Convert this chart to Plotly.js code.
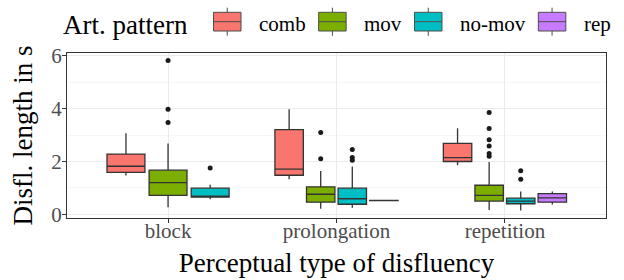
<!DOCTYPE html>
<html>
<head>
<meta charset="utf-8">
<script src="https://cdn.plot.ly/plotly-3.0.1.min.js"></script>
<style>html,body{margin:0;padding:0;background:#fff;}#chart{width:624px;height:280px;}</style>
</head>
<body>
<div id="chart"></div>
<script>
// Categories and series
const categories = ["block", "prolongation", "repetition"];
const series = ["comb", "mov", "no-mov", "rep"];
const colors = ["#F8766D", "#7CAE00", "#00BFC4", "#C77CFF"];
const legendTitle = "Art. pattern";

// Box statistics per series, one entry per category (null = no data)
const lowerfence = {
  "comb":   [1.47, 1.33, 1.86],
  "mov":    [0.27, 0.21, 0.16],
  "no-mov": [0.57, 0.25, 0.14],
  "rep":    [null, 0.51, 0.37]
};
const q1 = {
  "comb":   [1.59, 1.48, 2.00],
  "mov":    [0.72, 0.46, 0.50],
  "no-mov": [0.65, 0.38, 0.40],
  "rep":    [null, 0.52, 0.46]
};
const median = {
  "comb":   [1.82, 1.71, 2.15],
  "mov":    [1.20, 0.76, 0.72],
  "no-mov": [0.68, 0.59, 0.50],
  "rep":    [null, 0.52, 0.62]
};
const q3 = {
  "comb":   [2.28, 3.21, 2.69],
  "mov":    [1.67, 1.04, 1.10],
  "no-mov": [0.99, 0.99, 0.61],
  "rep":    [null, 0.53, 0.78]
};
const upperfence = {
  "comb":   [3.07, 3.98, 3.26],
  "mov":    [2.68, 1.64, 1.98],
  "no-mov": [1.12, 1.81, 0.86],
  "rep":    [null, 0.54, 0.86]
};
// Outliers per series, per category
const outliers = {
  "comb":   [[], [], []],
  "mov":    [[5.83, 3.98, 3.48], [3.10, 2.10], [3.86, 3.25, 2.82, 2.59, 2.30, 2.20]],
  "no-mov": [[1.75], [2.45, 2.15, 2.05], [1.65, 1.33]],
  "rep":    [[], [], []]
};

const FONT = "Liberation Serif, Times New Roman, serif";
const W = 624, H = 280;
const M = {l: 67, r: 18, t: 53, b: 62};
const dodge = 0.75;
const traces = [];
const outX = [], outY = [];

categories.forEach((cat, ci) => {
  const present = series.filter(s => median[s][ci] !== null);
  const n = present.length;
  const slot = dodge / n;
  present.forEach((s, k) => {
    const si = series.indexOf(s);
    const pos = (ci + 1) - dodge / 2 + slot * (k + 0.5);
    traces.push({
      type: "box",
      name: s,
      legendgroup: s,
      showlegend: false,
      x: [pos],
      q1: [q1[s][ci]],
      median: [median[s][ci]],
      q3: [q3[s][ci]],
      lowerfence: [lowerfence[s][ci]],
      upperfence: [upperfence[s][ci]],
      width: slot * 0.9,
      boxpoints: false,
      whiskerwidth: 0,
      fillcolor: colors[si],
      line: {color: "#333333", width: 1.3},
      hoverinfo: "skip"
    });
    outliers[s][ci].forEach(v => { outX.push(pos); outY.push(v); });
  });
});
traces.push({
  type: "scatter", mode: "markers", x: outX, y: outY, showlegend: false,
  marker: {color: "#1a1a1a", size: 5}, hoverinfo: "skip"
});

// ---- legend drawn in layout (ggplot-style keys) ----
const pw = W - M.l - M.r, ph = H - M.t - M.b;
const px = x => (x - M.l) / pw;
const py = y => (H - M.b - y) / ph;
const ctx = document.createElement("canvas").getContext("2d");
ctx.font = "21px 'Liberation Serif'";
const shapes = [], annotations = [];
annotations.push({
  text: legendTitle, xref: "paper", yref: "paper", x: px(61), y: py(25.5),
  xanchor: "left", yanchor: "middle", showarrow: false,
  font: {family: FONT, size: 27, color: "#000"}
});
let kx = 213.5;
const keyW = 27.5, keyTop = 12.3, keyBot = 31, keyMid = 21.7, whTop = 7.7, whBot = 35.7;
series.forEach((s, i) => {
  const cx = kx + keyW / 2;
  const lc = {color: "#4D4D4D", width: 1};
  shapes.push({type: "line", xref: "paper", yref: "paper", x0: px(cx), x1: px(cx), y0: py(whTop), y1: py(keyTop), line: lc});
  shapes.push({type: "line", xref: "paper", yref: "paper", x0: px(cx), x1: px(cx), y0: py(keyBot), y1: py(whBot), line: lc});
  shapes.push({type: "rect", xref: "paper", yref: "paper", x0: px(kx), x1: px(kx + keyW), y0: py(keyBot), y1: py(keyTop), fillcolor: colors[i], line: lc});
  shapes.push({type: "line", xref: "paper", yref: "paper", x0: px(kx), x1: px(kx + keyW), y0: py(keyMid), y1: py(keyMid), line: lc});
  const tx = kx + 43.5;
  annotations.push({
    text: s, xref: "paper", yref: "paper", x: px(tx), y: py(24),
    xanchor: "left", yanchor: "middle", showarrow: false,
    font: {family: FONT, size: 21, color: "#000"}
  });
  kx = tx + ctx.measureText(s).width + 15;
});

const layout = {
  width: W, height: H,
  margin: M,
  paper_bgcolor: "#fff", plot_bgcolor: "#fff",
  font: {family: FONT, size: 21, color: "#000"},
  boxmode: "overlay",
  showlegend: false,
  shapes: shapes,
  annotations: annotations,
  xaxis: {
    range: [0.4, 3.6], tickvals: [1, 2, 3], ticktext: categories,
    showgrid: true, gridcolor: "#EBEBEB", gridwidth: 1, zeroline: false,
    showline: true, mirror: true, linecolor: "#333333", linewidth: 1,
    ticks: "outside", ticklen: 4, tickcolor: "#333333",
    ticklabelstandoff: -10,
    tickfont: {family: FONT, size: 21, color: "#4D4D4D"},
    title: {text: "Perceptual type of disfluency", font: {family: FONT, size: 27, color: "#000"}, standoff: 10}
  },
  yaxis: {
    range: [-0.14, 6.11], tickvals: [0, 2, 4, 6],
    showgrid: true, gridcolor: "#EBEBEB", gridwidth: 1, zeroline: false,
    minor: {tickvals: [1, 3, 5], showgrid: true, gridcolor: "#F2F2F2", gridwidth: 0.6, ticks: ""},
    showline: true, mirror: true, linecolor: "#333333", linewidth: 1,
    ticks: "outside", ticklen: 4, tickcolor: "#333333",
    ticklabelstandoff: -4,
    tickfont: {family: FONT, size: 21, color: "#4D4D4D"},
    title: {text: "Disfl. length in s", font: {family: FONT, size: 27, color: "#000"}, standoff: 10}
  }
};

document.fonts.load("21px 'Liberation Serif'").then(() => {
  Plotly.newPlot("chart", traces, layout, {staticPlot: true, displayModeBar: false});
}, () => {
  Plotly.newPlot("chart", traces, layout, {staticPlot: true, displayModeBar: false});
});
</script>
</body>
</html>
